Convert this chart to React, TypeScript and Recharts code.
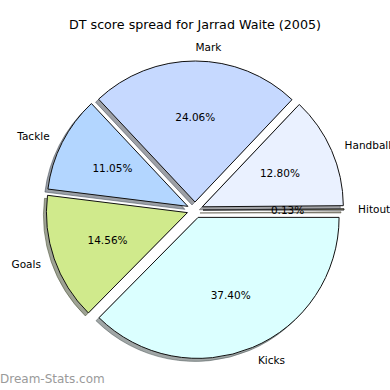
import React from 'react'
import { PieChart, Pie, Cell } from 'recharts'

const categories = ['Hitout', 'Handball', 'Mark', 'Tackle', 'Goals', 'Kicks']
const shares = [0.13, 12.8, 24.06, 11.05, 14.56, 37.4]
const colors = ['#fff7c2', '#eaf1ff', '#c6d9ff', '#b3d6ff', '#d0ea8c', '#dbffff']

const data = categories.map((name, i) => ({ name, value: shares[i] }))

const W = 390
const H = 390
const CX = 195
const CY = 210
const R = 141
const EXPLODE = 8
const SHADOW = 3
const RAD = Math.PI / 180
const FONT = '"DejaVu Sans", sans-serif'

const total = shares.reduce((a, b) => a + b, 0)
// middle angle of each wedge, degrees counter-clockwise from 3 o'clock
const midAngles = shares.map((v, i) => {
  const before = shares.slice(0, i).reduce((a, b) => a + b, 0)
  return ((before + v / 2) / total) * 360
})

const offset = (i: number) => ({
  dx: EXPLODE * Math.cos(midAngles[i] * RAD),
  dy: -EXPLODE * Math.sin(midAngles[i] * RAD),
})

// matplotlib style shadow: 0.3 * face colour, half transparent
const darken = (hex: string) => {
  const n = parseInt(hex.slice(1), 16)
  const r = Math.round(((n >> 16) & 255) * 0.3)
  const g = Math.round(((n >> 8) & 255) * 0.3)
  const b = Math.round((n & 255) * 0.3)
  return `rgb(${r},${g},${b})`
}

const renderLabel = (props: any) => {
  const { cx, cy, midAngle, outerRadius, name, percent, index } = props
  const { dx, dy } = offset(index)
  const cos = Math.cos(-midAngle * RAD)
  const sin = Math.sin(-midAngle * RAD)
  const ox = cx + dx
  const oy = cy + dy
  return (
    <g>
      <text
        x={ox + outerRadius * 1.1 * cos}
        y={oy + outerRadius * 1.1 * sin}
        textAnchor={cos >= 0 ? 'start' : 'end'}
        dominantBaseline="central"
        fontFamily={FONT}
        fontSize={10.5}
        fill="#000"
      >
        {name}
      </text>
      <text
        x={ox + outerRadius * 0.6 * cos}
        y={oy + outerRadius * 0.6 * sin}
        textAnchor="middle"
        dominantBaseline="central"
        fontFamily={FONT}
        fontSize={10.5}
        fill="#000"
      >
        {(percent * 100).toFixed(2)}%
      </text>
    </g>
  )
}

export default function App() {
  const pies: React.ReactNode[] = []
  categories.forEach((_, i) => {
    const { dx, dy } = offset(i)
    pies.push(
      <Pie
        key={`shadow-${i}`}
        data={data}
        dataKey="value"
        nameKey="name"
        cx={CX + dx - SHADOW}
        cy={CY + dy + SHADOW}
        outerRadius={R}
        startAngle={0}
        endAngle={360}
        stroke="none"
        labelLine={false}
        isAnimationActive={false}
      >
        {data.map((d, j) => (
          <Cell
            key={d.name}
            fill={j === i ? darken(colors[j]) : 'none'}
            fillOpacity={0.5}
            stroke={j === i ? darken(colors[j]) : 'none'}
            strokeOpacity={0.5}
          />
        ))}
      </Pie>
    )
    pies.push(
      <Pie
        key={`slice-${i}`}
        data={data}
        dataKey="value"
        nameKey="name"
        cx={CX + dx}
        cy={CY + dy}
        outerRadius={R}
        startAngle={0}
        endAngle={360}
        stroke="none"
        labelLine={false}
        isAnimationActive={false}
      >
        {data.map((d, j) => (
          <Cell
            key={d.name}
            fill={j === i ? colors[j] : 'none'}
            stroke={j === i ? '#111' : 'none'}
            strokeWidth={1}
          />
        ))}
      </Pie>
    )
  })

  return (
    <div style={{ position: 'relative', width: W, height: H, background: '#fff' }}>
      <style>{'body{margin:0}'}</style>
      <PieChart width={W} height={H} margin={{ top: 0, right: 0, bottom: 0, left: 0 }}>
        {pies}
        <Pie
          key="labels"
          data={data}
          dataKey="value"
          nameKey="name"
          cx={CX}
          cy={CY}
          outerRadius={R}
          startAngle={0}
          endAngle={360}
          stroke="none"
          fill="none"
          label={renderLabel}
          labelLine={false}
          isAnimationActive={false}
        >
          {data.map((d) => (
            <Cell key={d.name} fill="none" stroke="none" />
          ))}
        </Pie>
      </PieChart>
      <div
        style={{
          position: 'absolute',
          left: 0,
          top: 17,
          width: W,
          textAlign: 'center',
          fontFamily: FONT,
          fontSize: 12.7,
          lineHeight: '16px',
          color: '#000',
        }}
      >
        DT score spread for Jarrad Waite (2005)
      </div>
      <div
        style={{
          position: 'absolute',
          left: 0,
          top: 371,
          fontFamily: FONT,
          fontSize: 12,
          lineHeight: '16px',
          color: '#9a9a9a',
        }}
      >
        Dream-Stats.com
      </div>
    </div>
  )
}
